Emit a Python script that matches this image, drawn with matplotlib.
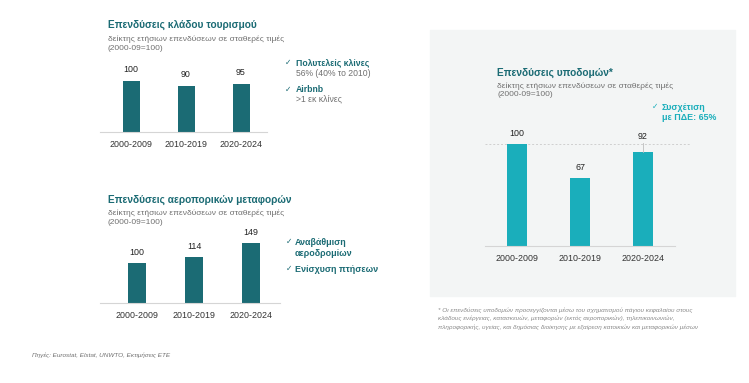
import matplotlib.pyplot as plt
from matplotlib.patches import Rectangle

plt.rcParams['font.family'] = ['Liberation Sans', 'DejaVu Sans']

W, H = 749, 383

periods = ['2000-2009', '2010-2019', '2020-2024']
tourism = [100, 90, 95]
air = [100, 114, 149]
infra = [100, 67, 92]

dark = '#1b6b74'
cyan = '#1aaebb'
grey_txt = '#707070'
sub = 'δείκτης ετήσιων επενδύσεων σε σταθερές τιμές'
sub2 = '(2000-09=100)'

fig = plt.figure(figsize=(W / 100, H / 100), dpi=100)
fig.patch.set_facecolor('white')


def fx(x):
    return x / W


def fy(y):
    return 1 - y / H


def txt(x, y, s, **kw):
    kw.setdefault('va', 'center')
    fig.text(fx(x), fy(y), s, **kw)


# light panel behind the infrastructure chart
fig.patches.append(Rectangle((fx(430), fy(296)), fx(735) - fx(430), fy(30) - fy(296),
                             transform=fig.transFigure, color='#f3f5f5', zorder=-10))


def make_ax(left, right, base, top, centers, scale):
    step = centers[1] - centers[0]
    x0 = (left - centers[0]) / step
    x1 = (right - centers[0]) / step
    ytop = (base - top) / scale
    ax = fig.add_axes([fx(left), fy(base), fx(right) - fx(left), fy(top) - fy(base)])
    ax.set_xlim(x0, x1)
    ax.set_ylim(0, ytop)
    ax.patch.set_alpha(0)
    for s in ['top', 'right', 'left']:
        ax.spines[s].set_visible(False)
    ax.spines['bottom'].set_color('#d5d5d5')
    ax.spines['bottom'].set_linewidth(0.8)
    ax.set_yticks([])
    ax.set_xticks(range(3))
    ax.set_xticklabels(periods, fontsize=6.4, color='#333333')
    ax.tick_params(axis='x', length=0, pad=6)
    return ax, step


# tourism
ax1, st = make_ax(100, 267, 132, 60, [131, 186, 241], 0.51)
ax1.bar(range(3), tourism, width=17 / st, color=dark)
for i, v in enumerate(tourism):
    ax1.text(i, v + 7 / 0.51, str(v), ha='center', va='bottom', fontsize=6.4, color='#222222')
txt(108, 25, 'Επενδύσεις κλάδου τουρισμού', fontsize=7.3, fontweight='bold', color=dark)
txt(108, 39, sub, fontsize=6, color=grey_txt)
txt(108, 49, sub2, fontsize=6, color=grey_txt)
txt(285, 63, '✓', fontsize=5.5, color=dark, ha='left')
txt(296, 63, 'Πολυτελείς κλίνες', fontsize=6.2, fontweight='bold', color=dark)
txt(296, 73, '56% (40% το 2010)', fontsize=6.2, color=grey_txt)
txt(285, 90, '✓', fontsize=5.5, color=dark)
txt(296, 90, 'Airbnb', fontsize=6.2, fontweight='bold', color=dark)
txt(296, 99, '>1 εκ κλίνες', fontsize=6.2, color=grey_txt)

# air transport
ax2, st = make_ax(100, 280, 303, 225, [137, 194, 251], 0.40)
ax2.bar(range(3), air, width=18 / st, color=dark)
for i, v in enumerate(air):
    ax2.text(i, v + 6 / 0.40, str(v), ha='center', va='bottom', fontsize=6.4, color='#222222')
txt(108, 200, 'Επενδύσεις αεροπορικών μεταφορών', fontsize=7.3, fontweight='bold', color=dark)
txt(108, 213, sub, fontsize=6, color=grey_txt)
txt(108, 223, sub2, fontsize=6, color=grey_txt)
txt(286, 242, '✓', fontsize=5.5, color=dark)
txt(295, 242, 'Αναβάθμιση', fontsize=6.4, fontweight='bold', color=dark)
txt(295, 253, 'αεροδρομίων', fontsize=6.4, fontweight='bold', color=dark)
txt(286, 269, '✓', fontsize=5.5, color=dark)
txt(295, 269, 'Ενίσχυση πτήσεων', fontsize=6.4, fontweight='bold', color=dark)

# infrastructure
ax3, st = make_ax(485, 675, 246, 125, [517, 580, 643], 1.02)
ax3.bar(range(3), infra, width=20 / st, color=cyan)
ax3.axhline(infra[0], xmin=0, xmax=(690 - 485) / 190, color='#cfcfcf', lw=0.7,
            ls=(0, (2, 2)), clip_on=False, zorder=0)
lab_y = [infra[0] + 6 / 1.02, infra[1] + 6 / 1.02, infra[0] + 3 / 1.02]
for i, v in enumerate(infra):
    ax3.text(i, lab_y[i], str(v), ha='center', va='bottom', fontsize=6.4, color='#222222')
ax3.plot([2, 2], [infra[2], infra[0] + 1], color='#bdbdbd', lw=0.6)
txt(497, 73, 'Επενδύσεις υποδομών*', fontsize=7.3, fontweight='bold', color=dark)
txt(497, 86, sub, fontsize=6, color=grey_txt)
txt(497, 95, sub2, fontsize=6, color=grey_txt)
txt(652, 107, '✓', fontsize=5.5, color=cyan)
txt(662, 107, 'Συσχέτιση', fontsize=6.4, fontweight='bold', color=cyan)
txt(662, 118, 'με ΠΔΕ: 65%', fontsize=6.4, fontweight='bold', color=cyan)

# footnotes
note = ['* Οι επενδύσεις υποδομών προσεγγίζονται μέσω του σχηματισμού πάγιου κεφαλαίου στους',
        'κλάδους ενέργειας, κατασκευών, μεταφορών (εκτός αεροπορικών), τηλεπικοινωνιών,',
        'πληροφορικής, υγείας, και δημόσιας διοίκησης με εξαίρεση κατοικιών και μεταφορικών μέσων']
for k, line in enumerate(note):
    txt(438, 310 + k * 8.5, line, fontsize=4.6, style='italic', color='#8a8a8a')
txt(32, 355, 'Πηγές: Eurostat, Elstat, UNWTO, Εκτιμήσεις ΕΤΕ', fontsize=4.6, style='italic',
    color='#707070')

fig.savefig('out.png', dpi=100)
